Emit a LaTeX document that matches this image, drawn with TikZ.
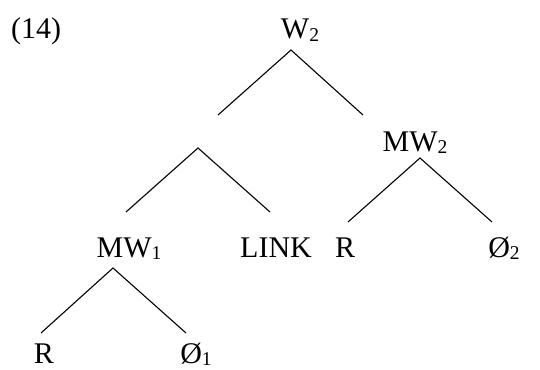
\documentclass[tikz,border=0pt]{standalone}
\usepackage{fontspec}
\setmainfont{Liberation Serif}
\usetikzlibrary{positioning}
\newcommand{\subidx}[1]{\raisebox{-2pt}{\fontsize{19.5}{22}\selectfont #1}}

\begin{document}
\begin{tikzpicture}[x=1pt,y=-1pt,
    lbl/.style={inner sep=0pt,anchor=base,font=\fontsize{30}{36}\selectfont},
    edge/.style={line width=1.1pt}]
        \useasboundingbox (0,0) rectangle (540,369);
        \node[lbl,anchor=base west] (ex) at (11,39) {(14)};
        \node[lbl] (W2) at (300,39) {W\subidx{2}};
        \node[lbl] (MW2) at (415,151) {MW\subidx{2}};
        \node[lbl] (MW1) at (129,257) {MW\subidx{1}};
        \node[lbl] (link) at (276,257) {LINK};
        \node[lbl] (R2) at (345,257) {R};
        \node[lbl] (O2) at (504,257) {Ø\subidx{2}};
        \node[lbl] (R1) at (44,363) {R};
        \node[lbl] (O1) at (196,363) {Ø\subidx{1}};
        \coordinate (W2top) at (291,50);
        \coordinate (W2l) at (218,115);
        \coordinate (W2r) at (363,115);
        \coordinate (Ntop) at (198,148);
        \coordinate (Nl) at (126,212);
        \coordinate (Nr) at (270,212);
        \coordinate (MW2top) at (420,158);
        \coordinate (MW2l) at (348,222);
        \coordinate (MW2r) at (492,222);
        \coordinate (MW1top) at (113,268);
        \coordinate (MW1l) at (41,333);
        \coordinate (MW1r) at (186,333);
        \draw[edge] (W2l) -- (W2top) -- (W2r);
        \draw[edge] (Nl) -- (Ntop) -- (Nr);
        \draw[edge] (MW2l) -- (MW2top) -- (MW2r);
        \draw[edge] (MW1l) -- (MW1top) -- (MW1r);
      \end{tikzpicture}
\end{document}
